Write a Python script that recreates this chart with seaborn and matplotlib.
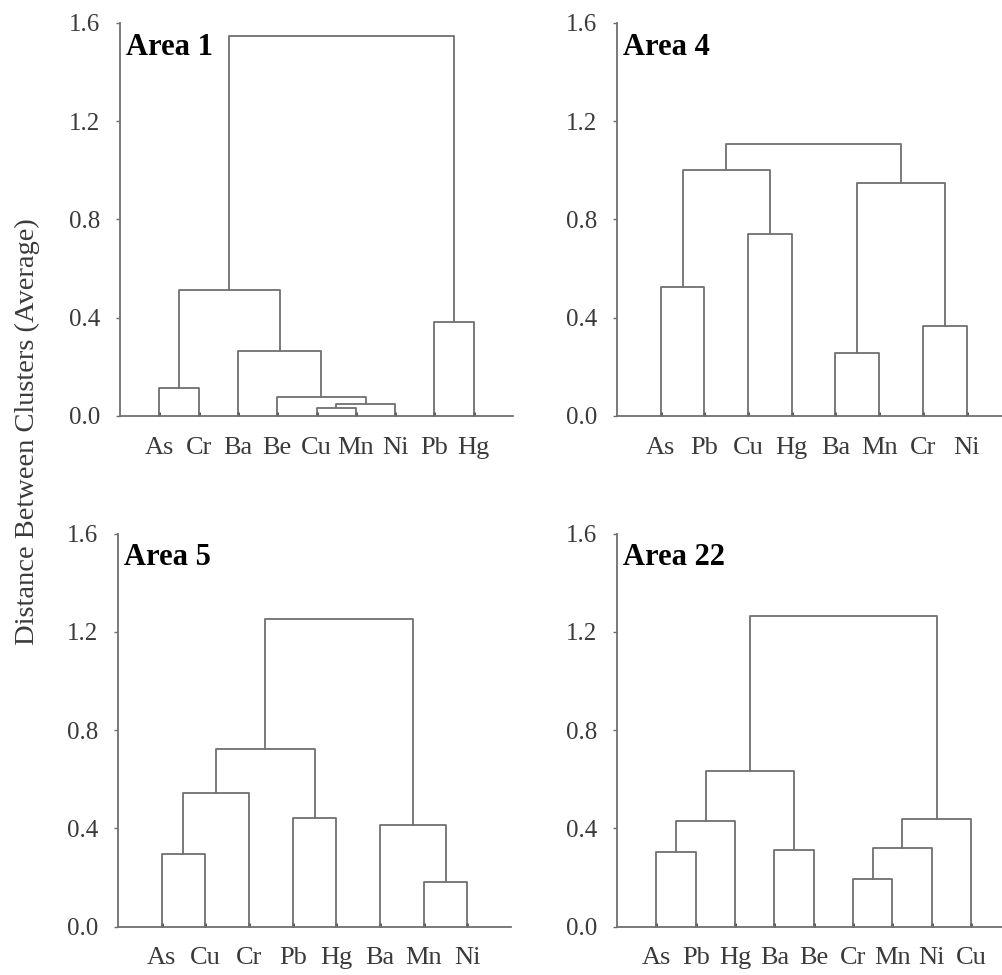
import pandas as pd
import matplotlib
matplotlib.use("Agg")
import matplotlib.pyplot as plt
import seaborn as sns

# ---- data: leaf order + merges (a, b, height) ----
# merge ids follow the scipy convention: leaves are 0..n-1, merge k is n+k
area1_leaves = ["As", "Cr", "Ba", "Be", "Cu", "Mn", "Ni", "Pb", "Hg"]
area1_merges = [(4, 5, 0.030), (9, 6, 0.048), (3, 10, 0.078), (0, 1, 0.112),
                (2, 11, 0.265), (7, 8, 0.380), (12, 13, 0.513), (15, 14, 1.545)]

area4_leaves = ["As", "Pb", "Cu", "Hg", "Ba", "Mn", "Cr", "Ni"]
area4_merges = [(4, 5, 0.255), (6, 7, 0.366), (0, 1, 0.524), (2, 3, 0.742),
                (8, 9, 0.949), (10, 11, 1.000), (13, 12, 1.108)]

area5_leaves = ["As", "Cu", "Cr", "Pb", "Hg", "Ba", "Mn", "Ni"]
area5_merges = [(6, 7, 0.183), (0, 1, 0.294), (5, 8, 0.413), (3, 4, 0.441),
                (9, 2, 0.542), (12, 11, 0.723), (13, 10, 1.254)]

area22_leaves = ["As", "Pb", "Hg", "Ba", "Be", "Cr", "Mn", "Ni", "Cu"]
area22_merges = [(5, 6, 0.194), (0, 1, 0.303), (3, 4, 0.310), (9, 7, 0.319),
                 (10, 2, 0.428), (12, 8, 0.439), (13, 11, 0.635), (15, 14, 1.264)]

panels = [("Area 1", area1_leaves, area1_merges),
          ("Area 4", area4_leaves, area4_merges),
          ("Area 5", area5_leaves, area5_merges),
          ("Area 22", area22_leaves, area22_merges)]

y_ticks = [0.0, 0.4, 0.8, 1.2, 1.6]

LINE = "#707070"
TEXT = "#3a3a3a"


def dendro_segments(leaves, merges):
    # x, height of every node; leaves sit at 1..n on the axis
    n = len(leaves)
    pos = {i: (i + 1.0, 0.0) for i in range(n)}
    rows = []
    for k, (a, b, h) in enumerate(merges):
        xa, ha = pos[a]
        xb, hb = pos[b]
        for x, y in [(xa, ha), (xa, h), (xb, h), (xb, hb)]:
            rows.append({"seg": k, "x": x, "y": y})
        pos[n + k] = ((xa + xb) / 2, h)
    return pd.DataFrame(rows)


sns.set_style("ticks")
plt.rcParams["font.family"] = ["Liberation Serif", "DejaVu Serif"]

fig = plt.figure(figsize=(10.03, 9.75), dpi=100)
boxes = [(0.1196, 0.5736), (0.6152, 0.5736), (0.1176, 0.0497), (0.6152, 0.0497)]

for (left, bottom), (title, leaves, merges) in zip(boxes, panels):
    ax = fig.add_axes([left, bottom, 0.392, 0.403])
    df = dendro_segments(leaves, merges)
    sns.lineplot(data=df, x="x", y="y", units="seg", estimator=None, sort=False,
                 color=LINE, linewidth=1.3, legend=False, ax=ax)

    ax.set_xlim(0, len(leaves) + 1)
    ax.set_ylim(0, 1.6)
    ax.set_xticks(range(1, len(leaves) + 1))
    ax.set_xticklabels(leaves)
    ax.set_yticks(y_ticks)
    ax.set_yticklabels([f"{t:.1f}" for t in y_ticks])
    ax.set_xlabel("")
    ax.set_ylabel("")

    ax.tick_params(axis="x", direction="in", length=3, width=2, color="#444444",
                   pad=15, labelsize=19, labelcolor=TEXT)
    ax.tick_params(axis="y", direction="out", length=3, width=1, color=LINE,
                   pad=11, labelsize=18, labelcolor=TEXT)
    for side in ["top", "right"]:
        ax.spines[side].set_visible(False)
    for side in ["left", "bottom"]:
        ax.spines[side].set_color(LINE)
        ax.spines[side].set_linewidth(1.3)
    ax.spines["bottom"].set_clip_on(False)

    ax.text(0.015, 0.975, title, transform=ax.transAxes, ha="left", va="top",
            fontsize=22, fontweight="bold", color="black")

fig.text(0.027, 0.557, "Distance Between Clusters (Average)", rotation=90,
         ha="center", va="center", fontsize=20.5, color=TEXT)

fig.savefig("out.png", dpi=100, facecolor="white")
